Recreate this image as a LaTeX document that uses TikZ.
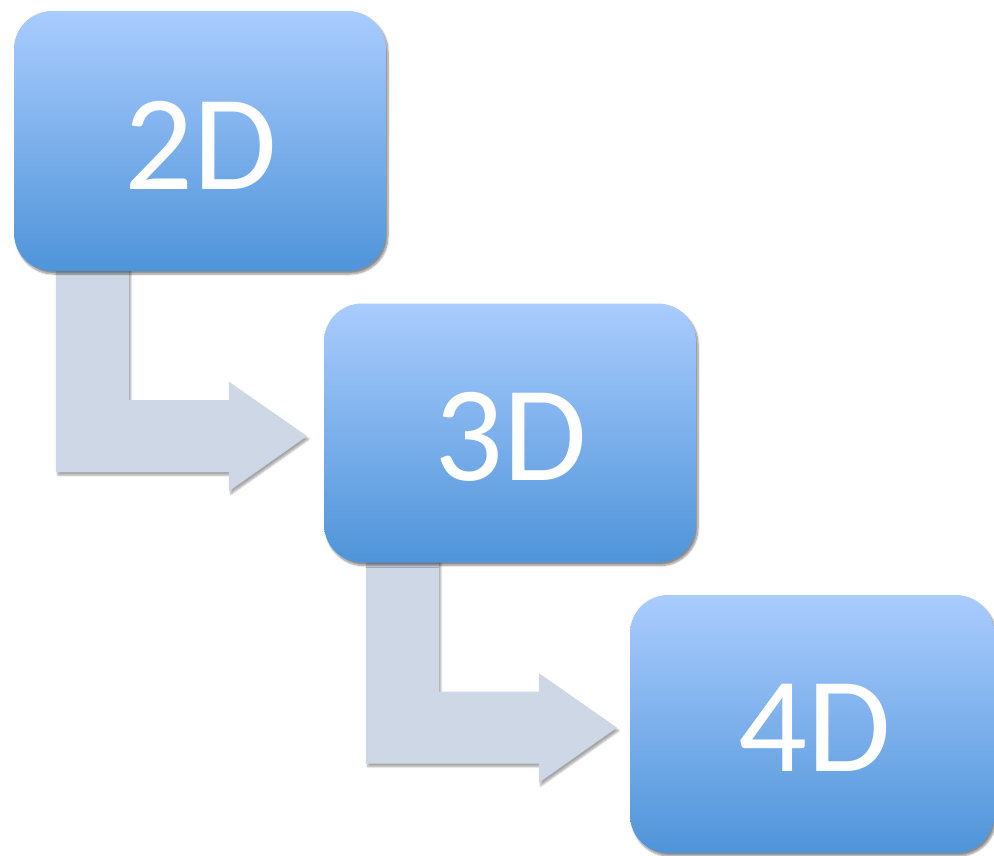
\documentclass[tikz,border=0pt]{standalone}
\usepackage{fontspec}
\setmainfont{Carlito}
\usetikzlibrary{shadows,shadows.blur,calc}
\definecolor{boxtop}{HTML}{AACCFE}
\definecolor{boxbot}{HTML}{4F94D9}
\definecolor{arrowfill}{HTML}{CDD7E5}
\pgfdeclarelayer{bg}
\pgfsetlayers{bg,main}
\tikzset{
  stagebox/.style={rectangle, rounded corners=38pt, inner sep=0pt,
    top color=boxtop, bottom color=boxbot, draw=none,
    blur shadow={shadow xshift=2pt, shadow yshift=-3pt, shadow blur steps=8, shadow opacity=45},
    text=white, font=\fontsize{136}{136}\selectfont},
  stagetext/.style={text=white, font=\fontsize{136}{136}\selectfont, inner sep=0pt},
  bentarrow/.pic={
    \fill[arrowfill, blur shadow={shadow xshift=2pt, shadow yshift=-3pt, shadow blur steps=5, shadow opacity=35}]
      (42,-5) -- (115,-5) -- (115,129) -- (215,129) -- (215,110.5) -- (293,165)
      -- (215,220) -- (215,201) -- (42,201) -- cycle;
  }
}
\begin{document}
\begin{tikzpicture}[x=1pt,y=-1pt]
\useasboundingbox (0,0) rectangle (994,855);
\node[stagebox, minimum width=372pt, minimum height=260pt] (b1) at (200,141) {};
\node[stagebox, minimum width=372pt, minimum height=259pt] (b2) at (510,433) {};
\node[stagebox, minimum width=364pt, minimum height=258pt] (b3) at (812,724) {};
\node[stagetext] (t1) at ($(b1.center)+(1,4)$) {2D};
\node[stagetext] (t2) at ($(b2.center)+(1,4)$) {3D};
\node[stagetext] (t3) at ($(b3.center)+(3,4)$) {4D};
\begin{pgfonlayer}{bg}
\pic at (b1.south west) {bentarrow};
\pic at (b2.south west) {bentarrow};
\end{pgfonlayer}
\end{tikzpicture}
\end{document}
